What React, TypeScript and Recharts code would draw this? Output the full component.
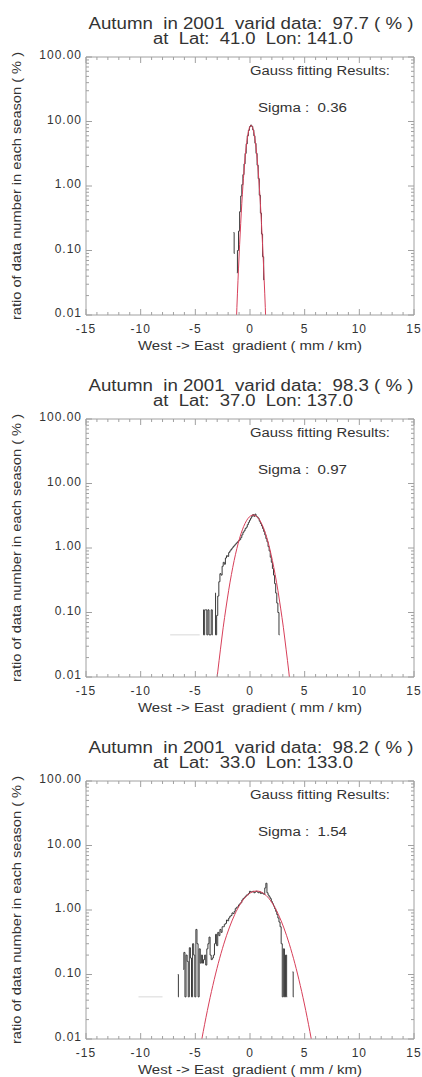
import React from 'react';
import { LineChart, Line, XAxis, YAxis } from 'recharts';

type Pt = [number, number | null];

const FONT = '"Liberation Sans", Arial, Helvetica, sans-serif';
const AXIS = '#a0a0a0';
const INK = '#333333';
const HIST = '#3a3a3a';
const FIT = '#d8405a';

// header values for the three grid points
const season = 'Autumn';
const year = 2001;
const validRatio = [97.7, 98.3, 98.2];
const stationLat = [41.0, 37.0, 33.0];
const stationLon = [141.0, 137.0, 133.0];
const gaussSigma = [0.36, 0.97, 1.54];

const xTickLabels = [-15, -10, -5, 0, 5, 10, 15];
const yTickLabels = [0.01, 0.1, 1, 10, 100];

// histogram (black step line) and fitted gauss curve (red), Lat 41 / Lon 141
const hist41: Pt[] = [
  [-1.5, 0.19], [-1.4, 0.09], [-1.3, null], [-1.2, 0.045], [-1.1, 0.1], [-1.0, 0.2],
  [-0.9, 0.4], [-0.8, 0.7], [-0.7, 1.05], [-0.6, 1.5], [-0.5, 2.2], [-0.4, 3.2],
  [-0.3, 4.5], [-0.2, 6.0], [-0.1, 7.3], [0.0, 8.3], [0.1, 8.8], [0.2, 8.4],
  [0.3, 7.4], [0.4, 6.0], [0.5, 4.6], [0.6, 3.2], [0.7, 2.1], [0.8, 1.3],
  [0.9, 0.72], [1.0, 0.38], [1.1, 0.18], [1.2, 0.08], [1.3, 0.035],
];
const fit41: Pt[] = [
  [-1.3, 0.0045], [-1.2, 0.013], [-1.1, 0.034], [-1.0, 0.082], [-0.9, 0.18],
  [-0.8, 0.38], [-0.7, 0.74], [-0.6, 1.31], [-0.5, 2.17], [-0.4, 3.32],
  [-0.3, 4.69], [-0.2, 6.15], [-0.1, 7.46], [0.0, 8.37], [0.1, 8.7],
  [0.2, 8.37], [0.3, 7.46], [0.4, 6.15], [0.5, 4.69], [0.6, 3.32],
  [0.7, 2.17], [0.8, 1.31], [0.9, 0.74], [1.0, 0.38], [1.1, 0.18],
  [1.2, 0.082], [1.3, 0.034], [1.4, 0.013], [1.5, 0.0045],
];

// Lat 37 / Lon 137
const hist37: Pt[] = [
  [-4.3, 0.11], [-4.2, 0.045], [-4.1, 0.11], [-4.0, 0.11], [-3.9, 0.045],
  [-3.8, 0.11], [-3.7, 0.045], [-3.6, 0.045], [-3.5, 0.11], [-3.4, 0.045],
  [-3.3, null], [-3.2, 0.2], [-3.1, 0.045], [-3.0, 0.09], [-2.9, 0.18],
  [-2.8, 0.3], [-2.7, 0.4], [-2.6, 0.38], [-2.5, 0.52], [-2.4, 0.6],
  [-2.3, 0.56], [-2.2, 0.7], [-2.1, 0.76], [-2.0, 0.74], [-1.9, 0.85],
  [-1.8, 0.9], [-1.7, 0.95], [-1.6, 1.0], [-1.5, 1.05], [-1.4, 1.1],
  [-1.3, 1.15], [-1.2, 1.2], [-1.1, 1.25], [-1.0, 1.3], [-0.9, 1.35],
  [-0.8, 1.45], [-0.7, 1.6], [-0.6, 1.75], [-0.5, 1.85], [-0.4, 2.0],
  [-0.3, 2.1], [-0.2, 2.3], [-0.1, 2.5], [0.0, 2.7], [0.1, 2.9],
  [0.2, 3.1], [0.3, 3.3], [0.4, 3.1], [0.5, 3.35], [0.6, 3.1],
  [0.7, 3.0], [0.8, 2.85], [0.9, 2.6], [1.0, 2.4], [1.1, 2.2],
  [1.2, 2.0], [1.3, 1.8], [1.4, 1.6], [1.5, 1.4], [1.6, 1.25],
  [1.7, 1.05], [1.8, 0.9], [1.9, 0.72], [2.0, 0.6], [2.1, 0.48],
  [2.2, 0.38], [2.3, 0.28], [2.4, 0.2], [2.5, 0.14], [2.6, 0.1],
  [2.7, 0.045],
];
const fit37: Pt[] = [
  [-3.2, 0.0048], [-2.95, 0.012], [-2.7, 0.027], [-2.45, 0.059], [-2.2, 0.117],
  [-1.95, 0.221], [-1.7, 0.388], [-1.45, 0.639], [-1.2, 0.983], [-0.95, 1.42],
  [-0.7, 1.91], [-0.45, 2.41], [-0.2, 2.85], [0.05, 3.14], [0.3, 3.25],
  [0.55, 3.14], [0.8, 2.85], [1.05, 2.41], [1.3, 1.91], [1.55, 1.42],
  [1.8, 0.983], [2.05, 0.639], [2.3, 0.388], [2.55, 0.221], [2.8, 0.117],
  [3.05, 0.059], [3.3, 0.027], [3.55, 0.012], [3.8, 0.0048],
];
const tail37: Pt[] = [[-7.3, 0.045], [-4.6, 0.045]];

// Lat 33 / Lon 133
const hist33: Pt[] = [
  [-6.6, 0.1], [-6.5, 0.045], [-6.4, null], [-6.1, 0.12], [-6.0, 0.22],
  [-5.9, 0.045], [-5.8, 0.2], [-5.7, 0.16], [-5.6, 0.045], [-5.5, 0.26],
  [-5.4, 0.18], [-5.3, 0.045], [-5.2, 0.3], [-5.1, 0.2], [-5.0, 0.045],
  [-4.9, 0.5], [-4.8, 0.3], [-4.7, 0.045], [-4.6, 0.25], [-4.5, 0.15],
  [-4.4, 0.2], [-4.3, 0.15], [-4.2, 0.17], [-4.1, 0.2], [-4.0, 0.14],
  [-3.9, 0.25], [-3.8, 0.3], [-3.7, 0.38], [-3.6, 0.2], [-3.5, 0.17],
  [-3.4, 0.18], [-3.3, 0.2], [-3.2, 0.3], [-3.1, 0.42], [-3.0, 0.28],
  [-2.9, 0.45], [-2.8, 0.4], [-2.7, 0.5], [-2.6, 0.45], [-2.5, 0.55],
  [-2.4, 0.55], [-2.3, 0.6], [-2.2, 0.62], [-2.1, 0.7], [-2.0, 0.68],
  [-1.9, 0.75], [-1.8, 0.8], [-1.7, 0.82], [-1.6, 0.9], [-1.5, 0.88],
  [-1.4, 0.95], [-1.3, 1.05], [-1.2, 1.1], [-1.1, 1.12], [-1.0, 1.2],
  [-0.9, 1.25], [-0.8, 1.3], [-0.7, 1.42], [-0.6, 1.5], [-0.5, 1.55],
  [-0.4, 1.62], [-0.3, 1.7], [-0.2, 1.72], [-0.1, 1.8], [0.0, 1.95],
  [0.1, 1.9], [0.2, 1.92], [0.3, 1.95], [0.4, 1.85], [0.5, 1.9],
  [0.6, 1.95], [0.7, 1.9], [0.8, 1.85], [0.9, 1.92], [1.0, 1.8],
  [1.1, 1.85], [1.2, 1.8], [1.3, 1.75], [1.4, 2.2], [1.5, 2.6],
  [1.6, 1.85], [1.7, 1.7], [1.8, 1.6], [1.9, 1.5], [2.0, 1.35],
  [2.1, 1.25], [2.2, 1.15], [2.3, 1.05], [2.4, 0.95], [2.5, 0.85],
  [2.6, 0.75], [2.7, 0.65], [2.8, 0.55], [2.9, 0.3], [3.0, 0.045],
  [3.1, 0.25], [3.2, 0.045], [3.3, 0.2], [3.4, 0.045], [3.5, null],
  [3.9, 0.11], [4.0, 0.045],
];
const fit33: Pt[] = [
  [-4.9, 0.0034], [-4.4, 0.0101], [-3.9, 0.0276], [-3.4, 0.0675], [-2.9, 0.149],
  [-2.4, 0.295], [-1.9, 0.527], [-1.4, 0.848], [-0.9, 1.23], [-0.4, 1.6],
  [0.1, 1.87], [0.6, 1.97], [1.1, 1.87], [1.6, 1.6], [2.1, 1.23],
  [2.6, 0.848], [3.1, 0.527], [3.6, 0.295], [4.1, 0.149], [4.6, 0.0675],
  [5.1, 0.0276], [5.6, 0.0101], [6.1, 0.0034],
];
const tail33: Pt[] = [[-10.2, 0.045], [-8.0, 0.045]];

const toRows = (pts: Pt[]) => pts.map(([x, y]) => ({ x, y }));

// every integer gets a minor tick, every 5 a labelled major
const xAllTicks = Array.from({ length: 31 }, (_, i) => i - 15);
const yAllTicks: number[] = [];
yTickLabels.slice(0, -1).forEach((d) => {
  for (let k = 1; k < 10; k++) yAllTicks.push(Number((d * k).toPrecision(3)));
});
yAllTicks.push(100);

const isMajorX = (v: number) => xTickLabels.includes(v);
const isMajorY = (v: number) => yTickLabels.some((t) => Math.abs(t - v) < 1e-9);

const BottomTick = ({ x, y, payload }: any) => {
  const major = isMajorX(payload.value);
  return (
    <g>
      <line x1={x} x2={x} y1={y} y2={y - (major ? 6 : 3)} stroke={AXIS} />
      {major && (
        <text x={x} y={y + 18} textAnchor="middle" fontSize={12} letterSpacing={1}
          fill={INK} fontFamily={FONT}>{payload.value}</text>
      )}
    </g>
  );
};

const TopTick = ({ x, y, payload }: any) => (
  <line x1={x} x2={x} y1={y} y2={y + (isMajorX(payload.value) ? 6 : 3)} stroke={AXIS} />
);

const LeftTick = ({ x, y, payload }: any) => {
  const major = isMajorY(payload.value);
  return (
    <g>
      <line x1={x} x2={x + (major ? 6 : 3)} y1={y} y2={y} stroke={AXIS} />
      {major && (
        <text x={x - 4} y={y + 2} textAnchor="end" fontSize={12} letterSpacing={1}
          fill={INK} fontFamily={FONT}>{payload.value.toFixed(2)}</text>
      )}
    </g>
  );
};

const RightTick = ({ x, y, payload }: any) => (
  <line x1={x} x2={x - (isMajorY(payload.value) ? 6 : 3)} y1={y} y2={y} stroke={AXIS} />
);

const W = 422;
const PLOT_LEFT = 86;
const PLOT_RIGHT = 414;
const PLOT_TOP = 57;
const PLOT_BOTTOM = 315;

interface PanelProps {
  idx: number;
  top: number;
  height: number;
  hist: Pt[];
  fit: Pt[];
  tail?: Pt[];
}

function Panel({ idx, top, height, hist, fit, tail }: PanelProps) {
  const margin = {
    top: PLOT_TOP - 1,
    right: W - PLOT_RIGHT - 1,
    bottom: height - PLOT_BOTTOM - 30,
    left: PLOT_LEFT - 60,
  };
  const midY = (PLOT_TOP + PLOT_BOTTOM) / 2;
  const text = { fontFamily: FONT, fill: INK, whiteSpace: 'pre' as const };
  return (
    <div style={{ position: 'absolute', left: 0, top, width: W, height }}>
      <LineChart width={W} height={height} margin={margin}>
        <XAxis type="number" dataKey="x" domain={[-15, 15]} ticks={xAllTicks} interval={0}
          allowDataOverflow height={30} tickSize={0} tickMargin={0} tickLine={false}
          axisLine={{ stroke: AXIS }} tick={BottomTick} />
        <XAxis xAxisId="top" orientation="top" type="number" dataKey="x" domain={[-15, 15]}
          ticks={xAllTicks} interval={0} allowDataOverflow height={1} tickSize={0}
          tickMargin={0} tickLine={false} axisLine={{ stroke: AXIS }} tick={TopTick} />
        <YAxis type="number" scale="log" domain={[0.01, 100]} ticks={yAllTicks} interval={0}
          allowDataOverflow width={60} tickSize={0} tickMargin={0} tickLine={false}
          axisLine={{ stroke: AXIS }} tick={LeftTick} />
        <YAxis yAxisId="r" orientation="right" type="number" scale="log" domain={[0.01, 100]}
          ticks={yAllTicks} interval={0} allowDataOverflow width={1} tickSize={0}
          tickMargin={0} tickLine={false} axisLine={{ stroke: AXIS }} tick={RightTick} />
        {tail && (
          <Line data={toRows(tail)} dataKey="y" type="linear" stroke="#d8d8d8" strokeWidth={1}
            dot={false} activeDot={false} isAnimationActive={false} />
        )}
        <Line data={toRows(hist)} dataKey="y" type="step" stroke={HIST} strokeWidth={1}
          dot={false} activeDot={false} isAnimationActive={false} />
        <Line data={toRows(fit)} dataKey="y" type="monotone" stroke={FIT} strokeWidth={1}
          dot={false} activeDot={false} isAnimationActive={false} />
      </LineChart>
      <svg width={W} height={height} style={{ position: 'absolute', left: 0, top: 0, pointerEvents: 'none' }}>
        <text x={251} y={29} textAnchor="middle" fontSize={16} textLength={325}
          lengthAdjust="spacingAndGlyphs" style={text}>
          {`${season}  in ${year}  varid data:  ${validRatio[idx].toFixed(1)} ( % )`}
        </text>
        <text x={253} y={44} textAnchor="middle" fontSize={16} textLength={200}
          lengthAdjust="spacingAndGlyphs" style={text}>
          {`at  Lat:  ${stationLat[idx].toFixed(1)}  Lon: ${stationLon[idx].toFixed(1)}`}
        </text>
        <text x={250} y={75} fontSize={12} textLength={140} lengthAdjust="spacingAndGlyphs" style={text}>
          Gauss fitting Results:
        </text>
        <text x={258} y={112} fontSize={12} textLength={89} lengthAdjust="spacingAndGlyphs" style={text}>
          {`Sigma :  ${gaussSigma[idx].toFixed(2)}`}
        </text>
        <text x={250} y={350} textAnchor="middle" fontSize={12} textLength={224}
          lengthAdjust="spacingAndGlyphs" style={text}>
          {'West -> East  gradient ( mm / km)'}
        </text>
        <text x={0} y={0} transform={`translate(21, ${midY}) rotate(-90)`} textAnchor="middle"
          fontSize={12} textLength={268} lengthAdjust="spacingAndGlyphs" style={text}>
          ratio of data number in each season ( % )
        </text>
      </svg>
    </div>
  );
}

export default function App() {
  return (
    <div style={{ position: 'absolute', left: 0, top: 0, width: W, height: 1077, background: '#fff', overflow: 'hidden' }}>
      <Panel idx={0} top={0} height={362} hist={hist41} fit={fit41} />
      <Panel idx={1} top={362} height={362} hist={hist37} fit={fit37} tail={tail37} />
      <Panel idx={2} top={724} height={353} hist={hist33} fit={fit33} tail={tail33} />
    </div>
  );
}
